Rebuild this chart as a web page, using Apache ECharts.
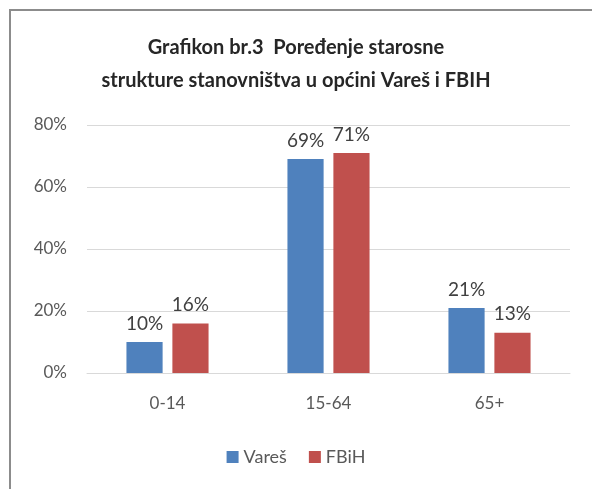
<!DOCTYPE html>
<html>
<head>
<meta charset="utf-8">
<script src="https://cdn.jsdelivr.net/npm/echarts@6/dist/echarts.min.js"></script>
<style>
  html, body { margin: 0; padding: 0; background: #fff; }
  #chart { width: 592px; height: 489px; }
</style>
</head>
<body>
<div id="chart"></div>
<script>
// podaci sa grafikona
const categories = ["0-14", "15-64", "65+"]
const seriesNames = ["Vareš", "FBiH"]
const varesValues = [10, 69, 21]
const fbihValues = [16, 71, 13]
const yTicks = [0, 20, 40, 60, 80]

const COLORS = ["#4F81BD", "#C0504D"]
const FONT = "Lato, 'Open Sans', sans-serif"

const chart = echarts.init(document.getElementById("chart"))

const makeSeries = (name, values, color) => ({
  name: name,
  type: "bar",
  data: values,
  barGap: "27%",
  barCategoryGap: "49%",
  itemStyle: { color: color },
  label: {
    show: true,
    position: "top",
    distance: 9,
    formatter: "{c}%",
    color: "#404040",
    fontSize: 19,
    fontFamily: FONT
  }
})

const option = {
  animation: false,
  backgroundColor: "#fff",
  textStyle: { fontFamily: FONT },
  graphic: [
    {
      type: "rect",
      shape: { x: 10, y: 10, width: 600, height: 500 },
      style: { fill: "none", stroke: "#8c8c8c", lineWidth: 2 }
    }
  ],
  title: {
    text: "Grafikon br.3  Poređenje starosne\nstrukture stanovništva u općini Vareš i FBIH",
    left: "center",
    top: 26,
    textStyle: {
      fontFamily: FONT,
      fontSize: 20,
      fontWeight: "bold",
      color: "#262626",
      lineHeight: 33
    }
  },
  legend: {
    data: seriesNames,
    bottom: 18,
    left: "center",
    itemWidth: 12,
    itemHeight: 12,
    itemGap: 22,
    icon: "rect",
    textStyle: { fontFamily: FONT, fontSize: 18, color: "#595959" }
  },
  grid: {
    left: 87,
    right: 22,
    top: 125,
    bottom: 116
  },
  xAxis: {
    type: "category",
    data: categories,
    axisLine: { show: true, lineStyle: { color: "#d9d9d9" } },
    axisTick: { show: false },
    axisLabel: {
      margin: 22,
      fontSize: 17,
      color: "#595959",
      fontFamily: FONT
    }
  },
  yAxis: {
    type: "value",
    min: yTicks[0],
    max: yTicks[yTicks.length - 1],
    interval: 20,
    axisLine: { show: false },
    axisTick: { show: false },
    splitLine: { lineStyle: { color: "#d9d9d9" } },
    axisLabel: {
      margin: 20,
      fontSize: 17,
      color: "#595959",
      fontFamily: FONT,
      formatter: "{value}%"
    }
  },
  series: [
    makeSeries(seriesNames[0], varesValues, COLORS[0]),
    makeSeries(seriesNames[1], fbihValues, COLORS[1])
  ]
}

chart.setOption(option)
</script>
</body>
</html>
